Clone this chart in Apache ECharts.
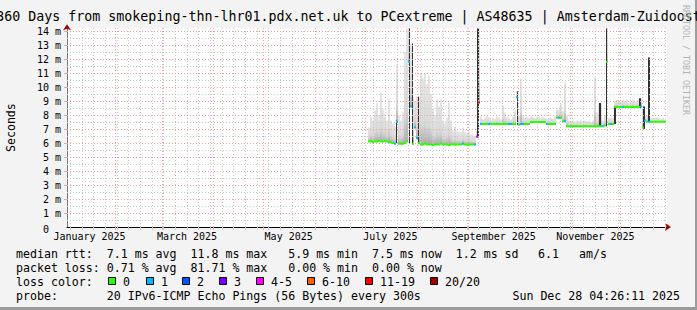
<!DOCTYPE html>
<html><head><meta charset="utf-8">
<script src="https://cdn.jsdelivr.net/npm/echarts@6/dist/echarts.min.js"></script>
<style>html,body{margin:0;padding:0;background:#f3f3f3}#c{width:697px;height:310px}</style>
</head><body><div id="c"></div>
<script>
// ---- axis / label data ----
const chartTitle = '360 Days from smokeping-thn-lhr01.pdx.net.uk to PCextreme | AS48635 | Amsterdam-Zuidoost';
const yLabelValues = [0,1,2,3,4,5,6,7,8,9,10,11,12,13,14];
const yMinorValues = [0.5,1.5,2.5,3.5,4.5,5.5,6.5,7.5,8.5,9.5,10.5,11.5,12.5,13.5];
const xLabelDays = [15.5, 74, 135, 196, 258, 319];
const xLabelTexts = ['January 2025','March 2025','May 2025','July 2025','September 2025','November 2025'];
const monthDays = [31,59,90,120,151,181,212,243,273,304,334];
const weekDays = [4,11,18,25,32,39,46,53,60,67,74,81,88,95,102,109,116,123,130,137,144,151,158,165,172,179,186,193,200,207,214,221,228,235,242,249,256,263,270,277,284,291,298,305,312,319,326,333,340,347,354,361];

// ---- series data (day of 2025, 1.2-day steps) ----
const sampleStart = 183.2, sampleStep = 1.2;
const median = [
6.1,6.1,6.05,6.1,6.1,6.15,6.1,6.1,6.15,6.1,
6.05,6.05,6.0,5.95,7.5,5.95,5.95,5.95,6.0,6.1,
11.8,8.6,5.95,7.1,6.35,6.0,5.9,5.9,5.95,5.9,
5.9,5.9,5.85,5.9,5.9,5.9,5.95,5.9,5.9,5.9,
5.85,5.9,5.9,5.9,5.9,5.9,5.9,5.95,5.9,5.9,
5.9,5.9,5.9,5.9,6.45,8.9,7.36,7.36,7.36,7.36,
7.36,7.36,7.36,7.36,7.36,7.36,7.36,7.36,7.36,7.36,
7.36,7.36,7.36,7.36,9.26,7.3,7.36,7.36,7.36,7.36,
7.36,7.5,7.5,7.5,7.5,7.5,7.5,7.5,7.5,7.36,
7.36,7.36,7.36,7.36,7.8,7.8,7.8,7.55,7.55,7.2,
7.2,7.2,7.2,7.2,7.2,7.2,7.2,7.2,7.2,7.2,
7.2,7.2,7.2,7.2,7.2,7.2,7.2,7.2,7.25,11.8,
7.36,7.36,7.36,8.57,8.57,8.57,8.57,8.57,8.57,8.57,
8.57,8.57,8.57,8.57,8.57,8.57,8.6,7.1,7.6,7.52,
7.52,7.52,7.52,7.52,7.52,7.52,7.52,7.52,7.52];
const lossIdx = [
0,0,0,0,0,0,0,0,0,0,
0,0,0,1,1,0,0,0,0,0,
1,1,0,1,1,0,0,0,0,0,
0,0,0,0,0,0,0,0,0,0,
0,0,0,0,0,0,0,1,0,0,
0,0,0,1,4,6,1,0,0,0,
1,0,0,0,0,0,0,0,0,0,
1,1,0,0,1,0,1,1,0,0,
0,0,0,0,0,0,0,0,0,1,
0,0,0,0,0,1,0,0,1,0,
0,0,0,0,0,0,0,0,0,0,
0,0,0,0,0,0,0,1,0,0,
0,1,0,0,0,0,0,1,0,0,
0,0,0,0,0,0,1,0,1,0,
1,0,0,0,0,0,0,0,0];
const smokeHigh = [
7.1,7.9,7.6,8.3,8.85,8.0,9.6,8.4,8.1,7.6,
9.1,7.6,7.4,7.2,11.6,8.0,7.6,8.2,12.5,14.2,
14.2,13.1,9.3,9.0,9.3,9.3,11.0,10.6,11.0,10.2,
10.8,9.5,8.4,8.0,9.1,8.6,9.1,7.6,7.4,7.8,
8.85,7.6,6.9,7.2,6.9,6.8,6.8,7.1,6.8,6.7,
6.8,6.6,6.55,6.5,7.0,14.2,7.85,7.7,7.8,7.9,
7.85,7.7,7.8,7.75,7.9,7.8,7.7,8.7,8.2,7.85,
7.8,7.7,7.9,8.3,9.66,8.0,10.6,8.0,7.8,7.85,
7.8,7.9,7.85,7.8,7.9,7.85,7.8,7.9,7.8,7.75,
7.8,7.8,7.75,7.9,8.4,8.4,8.8,8.3,10.3,8.0,
7.6,7.55,7.6,7.5,7.6,7.55,7.6,7.5,7.6,7.55,
7.6,7.5,7.6,10.7,8.2,8.8,8.85,7.6,8.0,14.2,
7.8,7.8,7.8,9.0,9.1,9.0,8.95,9.1,9.0,9.1,
8.9,9.0,9.1,8.95,9.0,9.1,9.2,8.6,7.9,8.0,
12.1,7.8,7.75,7.8,7.85,7.8,7.75,7.8,7.7];
// dense (dark) smoke columns: [day, low, high]
const denseSmoke = [
[199.7,6.0,7.6],[207.5,6.0,14.2],[209.3,6.0,13.1],[212.9,6.0,9.3],
[248.6,6.4,14.2],[272.3,7.3,9.7],[321.8,7.2,8.85],[325.7,7.2,14.2],
[330.8,7.36,8.57],[345.8,8.5,9.2],[348.2,7.0,8.6],[351.1,7.5,12.1]];

const lossLabels = ['0','1','2','3','4-5','6-10','11-19','20/20'];
const lossColors = ['#26ff00','#00b8ff','#0059ff','#7e00ff','#ff00ff','#ff5e00','#ff0000','#a10000'];
const statLines = [
  'median rtt:  7.1 ms avg  11.8 ms max   5.9 ms min  7.5 ms now  1.2 ms sd',
  'packet loss: 0.71 % avg  81.71 % max   0.00 % min  0.00 % now',
  'loss color:',
  'probe:       20 IPv6-ICMP Echo Pings (56 Bytes) every 300s'
];
const slopeValue = '6.1';
const slopeUnit = 'am/s';
const stampText = 'Sun Dec 28 04:26:11 2025';
const sideText = 'RRDTOOL / TOBI OETIKER';

// ---- build ----
const MONO = '"DejaVu Sans Mono", monospace';
const samples = median.map((m, i) => [sampleStart + i * sampleStep, m, smokeHigh[i], lossIdx[i]]);
const half = sampleStep / 2;

function colRect(api, d, lo, hi, w) {
  const a = api.coord([d - w, hi]);
  const b = api.coord([d + w, lo]);
  const x0 = Math.round(a[0]), x1 = Math.max(Math.round(b[0]), x0 + 1);
  return {x: x0, y: a[1], width: x1 - x0, height: b[1] - a[1]};
}

const chart = echarts.init(document.getElementById('c'), null, {renderer: 'svg'});
const gridLine = (axis, vals, color) => ({
  type: 'line', data: [], z: 3, silent: true,
  markLine: {
    silent: true, symbol: ['none','none'], label: {show: false}, animation: false,
    lineStyle: {color: color, type: [1, 2], width: 1},
    emphasis: {disabled: true},
    data: vals.map(v => ({[axis]: v}))
  }
});

const graphics = [
  {type:'rect', shape:{x:695,y:0,width:2,height:310}, style:{fill:'#9c9c9c'}, silent:true},
  {type:'rect', shape:{x:0,y:307,width:697,height:3}, style:{fill:'#9c9c9c'}, silent:true},
  {type:'text', x:348.5, y:16, style:{text: chartTitle, font:'13.3px ' + MONO, fill:'#000', textAlign:'center', textVerticalAlign:'middle'}},
  {type:'text', x:686, y:60, rotation:-Math.PI/2, style:{text: sideText, font:'8.3px ' + MONO, fill:'#b4b4b4', textAlign:'center', textVerticalAlign:'middle'}},
  {type:'text', x:680, y:296, style:{text: stampText, font:'11.6px ' + MONO, fill:'#000', textAlign:'right', textVerticalAlign:'middle'}},
  {type:'text', x:538, y:254, style:{text: slopeValue, font:'11.6px ' + MONO, fill:'#000', textAlign:'left', textVerticalAlign:'middle'}},
  {type:'text', x:579, y:254, style:{text: slopeUnit, font:'11.6px ' + MONO, fill:'#000', textAlign:'left', textVerticalAlign:'middle'}}
];
const lineY = [254, 268, 282, 296];
statLines.forEach((t, k) => graphics.push({type:'text', x:16, y:lineY[k], style:{text:t, font:'11.6px ' + MONO, fill:'#000', textAlign:'left', textVerticalAlign:'middle'}}));
const boxX = [108, 146, 182, 219, 256, 307, 365, 430];
lossLabels.forEach((lab, k) => {
  graphics.push({type:'rect', shape:{x:boxX[k]+0.5, y:277.5, width:7, height:7}, style:{fill:lossColors[k], stroke:'#000', lineWidth:1}});
  graphics.push({type:'text', x:boxX[k]+15, y:282, style:{text:lab, font:'11.6px ' + MONO, fill:'#000', textAlign:'left', textVerticalAlign:'middle'}});
});

const xBase = {type: 'value', min: 2, max: 362, position: 'bottom', splitLine: {show: false}};
const yBase = {type: 'value', min: 0, max: 14.2, position: 'left', splitLine: {show: false}};
chart.setOption({
  animation: false,
  backgroundColor: '#f3f3f3',
  grid: {left: 67, top: 28.2, width: 600, height: 198.8, show: true, backgroundColor: '#ffffff', borderWidth: 0,
    containLabel: false, outerBoundsMode: 'none'},
  xAxis: [
    Object.assign({}, xBase, {
      axisLine: {show: true, lineStyle: {color: '#000', width: 1}},
      axisTick: {show: true, customValues: weekDays, length: 3, lineStyle: {color: '#c8c8c8'}},
      axisLabel: {customValues: xLabelDays, margin: 4, fontFamily: MONO, fontSize: 10, color: '#000',
        formatter: v => { const k = xLabelDays.indexOf(v); return k >= 0 ? xLabelTexts[k] : ''; }}
    }),
    Object.assign({}, xBase, {
      axisLine: {show: true, symbol: ['none','arrow'], symbolSize: [6, 6], symbolOffset: [0, 4], lineStyle: {color: '#a00000', width: 0}},
      axisTick: {show: true, customValues: monthDays, length: 3, lineStyle: {color: '#f0a0a0'}},
      axisLabel: {show: false}
    })
  ],
  yAxis: [
    Object.assign({}, yBase, {
      name: 'Seconds', nameLocation: 'middle', nameGap: 50, nameRotate: 90,
      nameTextStyle: {fontFamily: MONO, fontSize: 11.6, color: '#000'},
      axisLine: {show: true, lineStyle: {color: '#777', width: 1}},
      axisTick: {show: true, customValues: yLabelValues.slice(1), length: 3, lineStyle: {color: '#f0a0a0'}},
      axisLabel: {customValues: yLabelValues, margin: 6, fontFamily: MONO, fontSize: 10, color: '#000',
        formatter: v => v === 0 ? '{z|0}' : v + ' m',
        rich: {z: {fontFamily: MONO, fontSize: 10, color: '#000', padding: [4, 12, 0, 0]}}}
    }),
    Object.assign({}, yBase, {
      axisLine: {show: true, symbol: ['none','arrow'], symbolSize: [6, 6], symbolOffset: [0, 4], lineStyle: {color: '#a00000', width: 0}},
      axisTick: {show: false}, axisLabel: {show: false}
    })
  ],
  graphic: graphics,
  series: [
    {
      type: 'custom', z: 2, silent: true, data: samples, clip: true,
      renderItem: (params, api) => ({
        type: 'rect', shape: colRect(api, api.value(0), api.value(1), api.value(2), half),
        style: {fill: new echarts.graphic.LinearGradient(0, 0, 0, 1, [
          {offset: 0, color: '#e5e5e5'}, {offset: 0.7, color: '#d9d9d9'}, {offset: 1, color: '#adadad'}])}
      })
    },
    {
      type: 'custom', z: 2, silent: true, data: denseSmoke, clip: true,
      renderItem: (params, api) => ({
        type: 'rect', shape: colRect(api, api.value(0), api.value(1), api.value(2), half * 0.8),
        style: {fill: '#333'}
      })
    },
    gridLine('yAxis', yMinorValues, '#c8c8c8'),
    gridLine('xAxis', weekDays, '#c8c8c8'),
    gridLine('yAxis', yLabelValues.slice(1), '#f0a0a0'),
    gridLine('xAxis', monthDays, '#f0a0a0'),
    {
      type: 'custom', z: 5, silent: true, data: samples, clip: true,
      renderItem: (params, api) => {
        const d = api.value(0), m = api.value(1);
        const a = api.coord([d - half, m]); const b = api.coord([d + half, m]);
        const x0 = Math.round(a[0]), x1 = Math.round(b[0]);
        return {type: 'rect', shape: {x: x0, y: a[1] - 1, width: x1 - x0, height: 2},
          style: {fill: lossColors[api.value(3)]}};
      }
    }
  ]
});
</script></body></html>
